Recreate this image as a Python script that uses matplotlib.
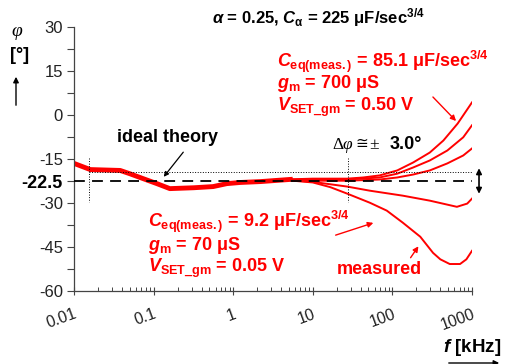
import matplotlib
matplotlib.use("Agg")
import matplotlib.pyplot as plt
import numpy as np

plt.rcParams["font.family"] = ["Liberation Sans", "DejaVu Sans"]
plt.rcParams["mathtext.fontset"] = "custom"
plt.rcParams["mathtext.rm"] = "Liberation Sans:bold"
plt.rcParams["mathtext.it"] = "Liberation Sans:italic:bold"
plt.rcParams["mathtext.bf"] = "Liberation Sans:bold"

# Data (frequency in kHz, phase in degrees)
f_common = [0.01, 0.016, 0.038, 0.05, 0.074, 0.11, 0.16, 0.32, 0.56, 0.83, 1.23, 2.2, 5.6]
phi_common = [-16.5, -18.6, -18.9, -20.0, -21.7, -23.4, -25.1, -24.8, -24.4, -23.4, -23.0, -22.7, -21.9]

f_a = [5.6, 10, 27, 43, 69, 115, 182, 295, 437, 661, 1000]
phi_a = [-21.9, -21.7, -21.7, -21.3, -20.6, -18.9, -16.2, -12.8, -8.7, -2.9, 4.3]
f_b = [5.6, 10, 27, 69, 115, 182, 295, 490, 776, 1000]
phi_b = [-22.0, -22.0, -22.0, -21.3, -20.0, -17.9, -15.5, -12.1, -7.6, -3.5]
f_c = [5.6, 10, 27, 69, 115, 182, 295, 490, 776, 1000]
phi_c = [-22.2, -22.4, -22.4, -22.0, -21.3, -20.3, -18.9, -16.5, -13.8, -11.4]
f_d = [5.6, 10, 27, 52, 135, 295, 646, 871, 1000]
phi_d = [-22.3, -22.8, -24.4, -25.8, -27.5, -29.2, -31.3, -30.2, -28.5]
f_e = [5.6, 10, 16.6, 27, 52, 85, 135, 224, 324, 400, 525, 708, 850, 1000]
phi_e = [-22.4, -23.0, -24.6, -26.8, -29.9, -32.6, -36.7, -41.5, -47.0, -49.2, -50.8, -50.8, -49.2, -46.3]

ideal = -22.5
tol = 3.0
x_ticks = [0.01, 0.1, 1, 10, 100, 1000]
x_labels = ["0.01", "0.1", "1", "10", "100", "1000"]

W, H = 506, 364


def fp(x, y):
    return (x / W, 1 - y / H)


def arrow(p0, p1, color="black", ms=8, lw=1.0):
    fig.add_artist(matplotlib.patches.FancyArrowPatch(fp(*p0), fp(*p1), transform=fig.transFigure,
                   arrowstyle="-|>", mutation_scale=ms, color=color, lw=lw))


fig = plt.figure(figsize=(W / 100, H / 100), dpi=100)
ax = fig.add_axes([74 / W, 1 - 291 / H, (472 - 74) / W, (291 - 27) / H])

red = "#ff0000"
ax.plot(f_common, phi_common, color=red, lw=3.5, solid_capstyle="butt")
for f, p in [(f_a, phi_a), (f_b, phi_b), (f_c, phi_c), (f_d, phi_d), (f_e, phi_e)]:
    ax.plot(f, p, color=red, lw=1.4)

# ideal line and tolerance
ax.plot([0.01, 1000], [ideal, ideal], color="black", ls="--", dashes=(6, 4), lw=1.3, zorder=5)
ax.plot([0.0154, 1000], [ideal + tol, ideal + tol], color="black", ls=":", lw=0.7, zorder=5)
ax.plot([0.0154, 0.0154], [-14.5, -29.5], color="black", ls=":", lw=0.7, zorder=5)
ax.plot([27.5, 27.5], [-14.5, -29.5], color="black", ls=":", lw=0.7, zorder=5)

ax.set_xscale("log")
ax.set_xlim(0.01, 1000)
ax.set_ylim(-60, 30)

yt = np.arange(-60, 31, 7.5)
ylabels = []
for v in yt:
    if v == ideal:
        ylabels.append("-22.5")
    elif v % 15 == 0:
        ylabels.append(str(int(v)))
    else:
        ylabels.append("")
ax.set_yticks(yt)
ax.set_yticklabels(ylabels, fontsize=12)

ax.set_xticks(x_ticks)
ax.set_xticklabels(x_labels, fontsize=11.5, rotation=20, ha="right", rotation_mode="anchor")
ax.xaxis.set_minor_formatter(matplotlib.ticker.NullFormatter())
ax.tick_params(axis="y", direction="out", length=5, width=0.8, pad=3, colors="#444444",
               labelcolor="#222222")
ax.tick_params(axis="x", which="major", direction="inout", length=6, width=0.8, pad=8,
               colors="#444444", labelcolor="#222222")
ax.tick_params(axis="x", which="minor", direction="in", length=3, width=0.7, colors="#444444")
for lab in ax.get_yticklabels():
    if lab.get_text() == "-22.5":
        lab.set_fontweight("bold")
        lab.set_fontsize(13)
        lab.set_color("black")

for s in ["top", "right"]:
    ax.spines[s].set_visible(False)
for s in ["left", "bottom"]:
    ax.spines[s].set_color("#444444")
    ax.spines[s].set_linewidth(0.9)

# double arrow for tolerance
ax.annotate("", xy=(1225, -17.2), xytext=(1225, -27.8),
            arrowprops=dict(arrowstyle="<|-|>", color="black", lw=1.2, mutation_scale=8),
            annotation_clip=False)

# title
fig.text(*fp(212, 18), r"$\alpha$ = 0.25, $C_{\mathrm{\alpha}}$ = 225 $\mathrm{\mu}$F/sec$^{3/4}$",
         fontsize=12, fontweight="bold", va="center", ha="left")

# y label
fig.text(*fp(17, 31), "φ", fontsize=14, family=["Liberation Serif", "DejaVu Serif"],
         style="italic", va="center", ha="center")
fig.text(*fp(20, 56), "[°]", fontsize=13, fontweight="bold", va="center", ha="center")
arrow((16, 108), (16, 74))

# x label
fig.text(*fp(443, 347), r"$f$ [kHz]", fontsize=13.5, fontweight="bold", va="center", ha="left")
arrow((446, 363), (502, 363))

# annotations
fig.text(*fp(117, 137), "ideal theory", fontsize=13, fontweight="bold", va="center", ha="left")
arrow((185, 150), (162, 179), ms=7, lw=0.9)

serif = ["Liberation Serif", "DejaVu Sans"]
fig.text(*fp(332, 145), "Δ", fontsize=12.5, family=serif, va="center", ha="left")
fig.text(*fp(342, 145), "φ", fontsize=12.5, family=serif, style="italic", va="center", ha="left")
fig.text(*fp(355, 145), "≅", fontsize=11, family=serif, va="center", ha="left")
fig.text(*fp(369, 145), "±", fontsize=12.5, family=serif, va="center", ha="left")
fig.text(*fp(390, 145), "3.0°", fontsize=13, fontweight="bold", va="center", ha="left")

top_lines = [r"$C_{\mathrm{eq(meas.)}}$ = 85.1 $\mathrm{\mu}$F/sec$^{3/4}$",
             r"$g_{\mathrm{m}}$ = 700 $\mathrm{\mu}$S",
             r"$V_{\mathrm{SET\_gm}}$ = 0.50 V"]
for txt, yy in zip(top_lines, [62, 84, 107]):
    fig.text(*fp(277, yy), txt, fontsize=13, fontweight="bold", color=red, va="center", ha="left")
arrow((431, 95), (458, 123), color=red)

bot_lines = [r"$C_{\mathrm{eq(meas.)}}$ = 9.2 $\mathrm{\mu}$F/sec$^{3/4}$",
             r"$g_{\mathrm{m}}$ = 70 $\mathrm{\mu}$S",
             r"$V_{\mathrm{SET\_gm}}$ = 0.05 V"]
for txt, yy in zip(bot_lines, [222, 246, 268]):
    fig.text(*fp(148, yy), txt, fontsize=13, fontweight="bold", color=red, va="center", ha="left")
arrow((333, 236), (376, 222), color=red)

fig.text(*fp(337, 270), "measured", fontsize=13, fontweight="bold", color=red, va="center", ha="left")
arrow((409, 260), (420, 244), color=red)

fig.savefig("out.png", dpi=100)
